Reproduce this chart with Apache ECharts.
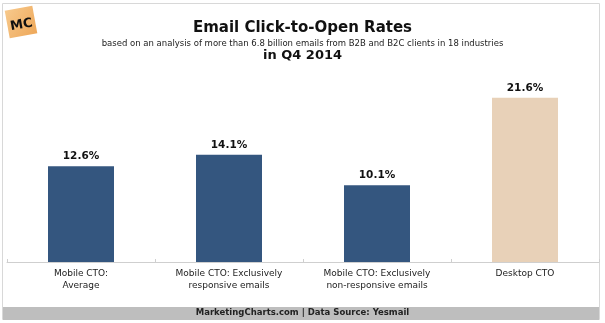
<!DOCTYPE html>
<html>
<head>
<meta charset="utf-8">
<script src="https://cdn.jsdelivr.net/npm/echarts@6/dist/echarts.min.js"></script>
<style>
html,body{margin:0;padding:0;background:#fff;}
#chart{width:605px;height:323px;}
</style>
</head>
<body>
<div id="chart"></div>
<script>
const categories = [
  "Mobile CTO:\nAverage",
  "Mobile CTO: Exclusively\nresponsive emails",
  "Mobile CTO: Exclusively\nnon-responsive emails",
  "Desktop CTO"
];
const values = [12.6, 14.1, 10.1, 21.6];
const barColors = ["#34567f", "#34567f", "#34567f", "#e8d1b8"];
const titleText = "Email Click-to-Open Rates";
const subText = "based on an analysis of more than 6.8 billion emails from B2B and B2C clients in 18 industries";
const periodText = "in Q4 2014";
const footerText = "MarketingCharts.com | Data Source: Yesmail";

const chart = echarts.init(document.getElementById('chart'), null, {renderer: 'canvas'});
const option = {
  backgroundColor: '#ffffff',
  animation: false,
  title: [
    {text: titleText, left: 'center', top: 16, textStyle: {fontFamily: 'DejaVu Sans', fontWeight: 'bold', fontSize: 15, color: '#111'}},
    {text: subText, left: 'center', top: 34, textStyle: {fontFamily: 'DejaVu Sans', fontWeight: 'normal', fontSize: 8.5, color: '#222'}},
    {text: periodText, left: 'center', top: 44, textStyle: {fontFamily: 'DejaVu Sans', fontWeight: 'bold', fontSize: 13, color: '#111'}}
  ],
  grid: {left: 7, right: 6, top: 72, bottom: 61, containLabel: false},
  xAxis: {
    type: 'category',
    data: categories,
    axisLine: {lineStyle: {color: '#cfcfcf', width: 1}},
    axisTick: {show: true, inside: true, length: 3, lineStyle: {color: '#cfcfcf'}},
    axisLabel: {fontFamily: 'DejaVu Sans', fontSize: 9, color: '#222', margin: 6, lineHeight: 12, interval: 0}
  },
  yAxis: {type: 'value', min: 0, max: 25, show: false, splitLine: {show: false}},
  series: [{
    type: 'bar',
    barWidth: 66,
    data: values.map((v, i) => ({value: v, itemStyle: {color: barColors[i]}})),
    label: {
      show: true, position: 'top', distance: 4,
      formatter: p => p.value.toFixed(1) + '%',
      fontFamily: 'DejaVu Sans', fontWeight: 'bold', fontSize: 10.5, color: '#111'
    }
  }],
  graphic: [
    {type: 'rect', z: -1, shape: {x: 2.5, y: 3.5, width: 597, height: 316}, style: {fill: 'none', stroke: '#d8d8d8', lineWidth: 1}},
    {type: 'rect', z: 1, shape: {x: 3, y: 307, width: 596, height: 13}, style: {fill: '#bebebe'}},
    {type: 'text', z: 2, left: 'center', top: 308.5, style: {text: footerText, fontFamily: 'DejaVu Sans', fontWeight: 'bold', fontSize: 8.5, fill: '#222'}},
    {type: 'group', x: 21, y: 22, rotation: 0.18, z: 3, children: [
      {type: 'rect', shape: {x: -14, y: -14, width: 28, height: 28}, style: {fill: new echarts.graphic.LinearGradient(0, 0, 1, 1, [{offset: 0, color: '#f7c98c'}, {offset: 1, color: '#eea85a'}])}},
      {type: 'text', style: {text: 'MC', x: 0, y: 3, align: 'center', verticalAlign: 'middle', fontFamily: 'DejaVu Sans', fontWeight: 'bold', fontSize: 13, fill: '#111'}}
    ]}
  ]
};
chart.setOption(option);
</script>
</body>
</html>
